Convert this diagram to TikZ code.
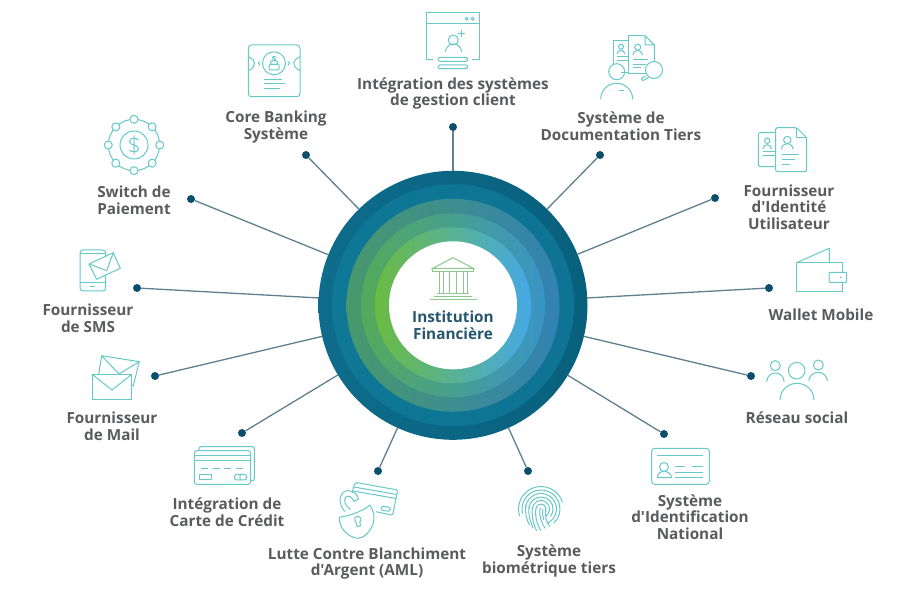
\documentclass[tikz,border=0pt]{standalone}
\usepackage{fontspec}
\setmainfont{Open Sans}[Ligatures=TeXOff]
\usetikzlibrary{calc}
\definecolor{txt}{HTML}{5A5B5D}
\definecolor{hubtxt}{HTML}{25566F}
\definecolor{ico}{HTML}{66C8C8}
\definecolor{cn}{HTML}{5F7F90}
\definecolor{dt}{HTML}{0B4F6C}
\definecolor{bk}{HTML}{8CC98E}
\tikzset{
  lab/.style={inner sep=0pt,align=center,text=txt,font=\fontsize{15.3}{16.6}\selectfont\bfseries},
  hublab/.style={inner sep=0pt,align=center,text=hubtxt,font=\fontsize{15.3}{16.6}\selectfont\bfseries},
  dotn/.style={circle,fill=dt,inner sep=0pt,minimum size=8pt},
  conn/.style={draw=cn,line width=1.3pt},
  ring/.style={circle,inner sep=0pt,outer sep=0pt},
  icon/.style={draw=ico,line width=1pt,line join=round},
  bank/.style={draw=bk,line width=1pt},
}
\begin{document}
\begin{tikzpicture}[x=1pt,y=-1pt]
\useasboundingbox (0,0) rectangle (906,601);
% ---------- hub rings
\node[ring,minimum size=269pt,left color={rgb,255:red,14;green,108;blue,140},right color={rgb,255:red,8;green,96;blue,124}] (hub) at (453,305.3) {};
\node[ring,minimum size=242pt,left color={rgb,255:red,14;green,120;blue,150},right color={rgb,255:red,14;green,115;blue,148}] (r2) at (453,305.3) {};
\node[ring,minimum size=213pt,left color={rgb,255:red,72;green,152;blue,108},right color={rgb,255:red,50;green,130;blue,180}] (r3) at (453,305.3) {};
\node[ring,minimum size=184pt,left color={rgb,255:red,84;green,170;blue,90},right color={rgb,255:red,58;green,148;blue,198}] (r4) at (453,305.3) {};
\node[ring,minimum size=156pt,left color={rgb,255:red,108;green,187;blue,65},right color={rgb,255:red,69;green,168;blue,230}] (r5) at (453,305.3) {};
\node[ring,minimum size=128pt,fill=white] (r6) at (453,305.3) {};
\node[hublab] (hubtext) at (453,325.5) {Institution\\Financière};
% bank icon
\draw[bank] (432.7,268.3) -- (453,257.7) -- (473.3,268.3) -- cycle;
\draw[bank] (432.7,268.3) rectangle (473.3,272);
\foreach \x in {439,443,449.5,456.5,463,467}{\draw[bank] (\x,272) -- (\x,294);}
\draw[bank] (437,294) -- (469,294);
\draw[bank] (434,296.5) -- (472,296.5);
\draw[bank] (429.5,299.5) -- (476.5,299.5);
% ---------- dots and connectors
\node[dotn] (d1) at (453,127) {};
\node[dotn] (d2) at (306,155) {};
\node[dotn] (d3) at (191,199) {};
\node[dotn] (d4) at (137,288) {};
\node[dotn] (d5) at (155,376) {};
\node[dotn] (d6) at (242,433) {};
\node[dotn] (d7) at (378,471) {};
\node[dotn] (d8) at (528,471) {};
\node[dotn] (d9) at (664,434) {};
\node[dotn] (d10) at (751,376) {};
\node[dotn] (d11) at (769,288) {};
\node[dotn] (d12) at (715,198) {};
\node[dotn] (d13) at (600,155) {};
\foreach \i in {1,...,13}{\draw[conn] (d\i) -- (hub);}
% ---------- labels
\node[lab] (l1) at (453,93.5) {Intégration des systèmes\\de gestion client};
\node[lab] (l2) at (276,127) {Core Banking\\Système};
\node[lab] (l3) at (134,200) {Switch de\\Paiement};
\node[lab] (l4) at (88,318) {Fournisseur\\de SMS};
\node[lab] (l5) at (112,426) {Fournisseur\\de Mail};
\node[lab] (l6) at (227,512.5) {Intégration de\\Carte de Crédit};
\node[lab] (l7) at (367,563.5) {Lutte Contre Blanchiment\\d'Argent (AML)};
\node[lab] (l8) at (549,561) {Système\\biométrique tiers};
\node[lab] (l9) at (690,517) {Système\\d'Identification\\National};
\node[lab] (l10) at (797,418) {Réseau social};
\node[lab] (l11) at (821,315) {Wallet Mobile};
\node[lab] (l12) at (789,207) {Fournisseur\\d'Identité\\Utilisateur};
\node[lab] (l13) at (621,126) {Système de\\Documentation Tiers};
% ---------- icon: integration
\draw[icon] (433,59.3) -- (426,59.3) -- (426,12.7) -- (479.3,12.7) -- (479.3,59.3) -- (472,59.3);
\draw[icon] (426,24) -- (479.3,24);
\draw[icon] (466.7,18.7) circle[radius=1.5] (472.7,18.7) circle[radius=1.5];
\draw[icon] (453.3,40) circle[radius=5];
\draw[icon] (445.5,52) arc[start angle=180,end angle=360,radius=8];
\draw[icon] (461.7,30) -- (461.7,37) (458.2,33.5) -- (465.2,33.5);
\draw[icon,rounded corners=1.5pt] (438,57.3) rectangle (467.7,61.3);
\draw[icon,rounded corners=1.5pt] (438,65) rectangle (467.7,68.7);
% ---------- icon: core banking
\draw[icon,rounded corners=3pt] (248.3,45) rectangle (300,96.7);
\draw[icon] (248.3,56.7) .. controls (253,59) and (254.5,61) .. (254.5,63.3) .. controls (254.5,66) and (253,68.5) .. (248.3,70.7);
\draw[icon] (300,56.7) .. controls (295.3,59) and (293.8,61) .. (293.8,63.3) .. controls (293.8,66) and (295.3,68.5) .. (300,70.7);
\draw[icon] (274,63.3) circle[radius=11.5];
\draw[icon] (260,61.5) -- (258.3,63.3) -- (260,65.1) (288,61.5) -- (289.7,63.3) -- (288,65.1);
\draw[icon,rounded corners=1pt] (269,64.5) rectangle (279,70);
\draw[icon,rounded corners=1pt] (270.5,61) rectangle (277.5,64.5);
\draw[icon] (276,57) .. controls (274,55.5) and (272,56.5) .. (272.5,57.8) .. controls (273,59) and (276,58.5) .. (275.8,59.8) .. controls (275.5,61) and (273,60.8) .. (272,60);
\draw[icon] (264,80) -- (282,80) (264,84) -- (285,84) (264,88.3) -- (280,88.3);
% ---------- icon: switch
\draw[icon] (134,145) circle[radius=25.7];
\draw[icon] (134,145) circle[radius=14];
\foreach \a in {0,45,...,315}{\draw[icon,fill=white] (\a:25.7) ++(134,145) circle[radius=4];}
\draw[icon] (138.5,140) .. controls (136.5,137.5) and (129.5,137.5) .. (129.5,141.5) .. controls (129.5,146) and (138.5,144) .. (138.5,149) .. controls (138.5,152.5) and (131,152.5) .. (129.3,150) (134,135.5) -- (134,154.5);
% ---------- icon: SMS
\draw[icon,rounded corners=3pt] (80,250) rectangle (105.7,291);
\draw[icon] (80,254) -- (105.7,254) (80,282.7) -- (105.7,282.7) (90,287) -- (95,287);
\draw[icon,fill=white] (89,264) -- (113.3,252.7) -- (120.3,268.3) -- (96.7,279.3) -- cycle;
\draw[icon] (89,264) -- (106.7,270.7) -- (113.3,252.7);
% ---------- icon: mail
\draw[icon] (98.7,374.3) -- (101.7,355.7) -- (139.3,361.7) -- (133.3,385.7) -- (131.7,385.3);
\draw[icon] (101.7,355.7) -- (119,374) -- (139.3,361.7);
\draw[icon,fill=white] (92.3,374.3) rectangle (131.7,399.3);
\draw[icon] (92.3,374.3) -- (112,390) -- (131.7,374.3);
% ---------- icon: credit card
\draw[icon,rounded corners=2pt] (199,450.7) -- (199,446.7) -- (254.3,446.7) -- (254.3,480.7) -- (250.7,480.7);
\draw[icon,fill=white,rounded corners=2.5pt] (194.3,450.7) rectangle (250.7,484.3);
\draw[icon] (194.3,456) -- (250.7,456) (194.3,460.7) -- (250.7,460.7);
\draw[icon,dash pattern=on 7pt off 4.5pt] (201,469) -- (245,469);
\draw[icon] (199.3,475) rectangle (211.3,479.3);
\draw[icon,rounded corners=2.5pt] (234.3,474.3) rectangle (246.7,480);
\draw[icon] (240.5,474.5) .. controls (239.5,476) and (239.5,478) .. (240.5,479.8);
% ---------- icon: AML
\draw[icon,rounded corners=2pt] (352,493) -- (355,482.3) -- (397.7,490) -- (392.7,515.3) -- (376,511.7);
\draw[icon] (354,487) -- (396.7,494.5) (353.3,491) -- (396,498.5);
\draw[icon,rounded corners=1.5pt] (381.5,506) -- (390.5,507.5) -- (389.8,511.5) -- (380.8,510) -- cycle;
\draw[icon] (345,511.5) .. controls (340,507) and (338,497) .. (343,492.5) .. controls (349,488) and (357,492) .. (358.5,499) -- (354,501.5) .. controls (352.5,497) and (348,495) .. (346,497) .. controls (343,499.5) and (345,506) .. (350.5,509.5);
\draw[icon,fill=white] (339.3,517.3) .. controls (348,516) and (362,512) .. (370,505) .. controls (374,511) and (375,518) .. (373,524) .. controls (370,532) and (364,538) .. (358.3,538.3) .. controls (350,538) and (339,530) .. (339.3,517.3) -- cycle;
\draw[icon] (357,526.5) -- (356,522.5) .. controls (353.5,520) and (355,516) .. (358,516.5) .. controls (361,516.8) and (362,520) .. (359.8,522) -- (360.5,526) -- cycle;
% ---------- icon: fingerprint
\begin{scope}[shift={(541,509)},rotate=-12]
\foreach \r/\p/\q in {22.5/150/330, 19/155/395, 15.5/175/415, 12/170/385, 8.5/180/400, 5/180/370}{
  \draw[icon,line cap=round] (\p:\r) arc[start angle=\p,end angle=\q,radius=\r];}
\draw[icon,line cap=round] (-15.5,-1) .. controls (-15,8) and (-12,13) .. (-8,18);
\draw[icon,line cap=round] (-12,0) .. controls (-12,8) and (-8,14) .. (-4,20);
\draw[icon,line cap=round] (-8.5,0) .. controls (-8.5,8) and (-5,15) .. (0,22);
\draw[icon,line cap=round] (-5,0) .. controls (-5,8) and (-1,15) .. (4,21);
\draw[icon,line cap=round] (-1,-1) .. controls (-1,7) and (3,13) .. (8,18);
\draw[icon,line cap=round] (5,0) .. controls (5,6) and (8,12) .. (12,15);
\draw[icon,line cap=round] (2,0) .. controls (2,4) and (3,7) .. (5,10);
\end{scope}
% ---------- icon: national ID
\draw[icon,rounded corners=3pt] (651.7,448.3) rectangle (709.3,484.3);
\draw[icon] (657,455.7) -- (702.7,455.7);
\draw[icon] (664,467) circle[radius=4.5];
\draw[icon] (657.5,477.7) .. controls (657.5,473.5) and (660,471.5) .. (664,471.5) .. controls (668,471.5) and (671.5,473.5) .. (671.5,477.7) -- cycle;
\draw[icon] (675,467) -- (685,467) (691.7,467) -- (702.7,467) (675,472.3) -- (702.7,472.3) (675,477.3) -- (702.7,477.3);
% ---------- icon: social
\draw[icon] (796.7,370.7) circle[radius=8.3];
\draw[icon] (780,400) arc[start angle=180,end angle=360,x radius=17,y radius=16.7];
\draw[icon] (775.3,365.7) circle[radius=5];
\draw[icon] (766.7,381.7) arc[start angle=180,end angle=360,x radius=8.7,y radius=8.7];
\draw[icon] (818.3,365) circle[radius=5];
\draw[icon] (808.8,381) arc[start angle=180,end angle=360,x radius=9.3,y radius=8.7];
% ---------- icon: wallet
\draw[icon] (796.7,262.7) -- (829.3,248.3) -- (829.3,262.7);
\draw[icon] (842.7,272.3) -- (842.7,262.7) -- (796.7,262.7) -- (796.7,291.7) -- (842.7,291.7) -- (842.7,282.3);
\draw[icon,rounded corners=1pt] (829,272.3) rectangle (846.7,282.3);
\fill[ico] (840.7,277.3) circle[radius=1];
% ---------- icon: identity
\draw[icon,rounded corners=1.5pt] (775.7,166.7) -- (758.3,166.7) -- (758.3,132.7) -- (775.7,132.7);
\draw[icon] (767.3,140.7) circle[radius=2.7];
\draw[icon] (763,149) arc[start angle=180,end angle=360,radius=4.3];
\draw[icon] (762.5,151.7) -- (775.7,151.7) (762.5,155.7) -- (775.7,155.7);
\draw[icon,rounded corners=1.5pt] (796.7,127.7) -- (775.7,127.7) -- (775.7,171.7) -- (806.7,171.7) -- (806.7,137.7) -- cycle;
\draw[icon] (796.7,127.7) -- (796.7,137.7) -- (806.7,137.7);
\draw[icon] (787.3,140) circle[radius=3.7];
\draw[icon] (781.5,149.5) arc[start angle=180,end angle=360,radius=5.8];
\draw[icon] (781.7,154.3) -- (799.3,154.3) (781.7,159.3) -- (795,159.3) (781.7,164.3) -- (790,164.3);
% ---------- icon: documentation
\draw[icon] (628.3,40.7) -- (613.3,40.7) -- (613.3,64);
\draw[icon] (621.3,73) -- (628.3,73);
\draw[icon] (621,46.7) circle[radius=2.5];
\draw[icon] (617.3,54) arc[start angle=180,end angle=360,radius=3.7];
\draw[icon] (617,57) -- (628.3,57) (617,60.5) -- (628.3,60.5);
\draw[icon] (645,35.7) -- (628.3,35.7) -- (628.3,73.3) -- (646,73.3);
\draw[icon] (645,35.7) -- (654.3,45) -- (654.3,62) (645,35.7) -- (645,45) -- (654.3,45);
\draw[icon] (637.7,47.3) circle[radius=3];
\draw[icon] (633,55) arc[start angle=180,end angle=360,radius=4.7];
\draw[icon] (633,60) -- (648,60) (633,64.5) -- (646,64.5) (633,68) -- (641,68);
\draw[icon] (616.7,71.7) circle[radius=8];
\draw[icon] (654,70) circle[radius=8.5];
\draw[icon] (648.3,77.3) -- (645,79.5) -- (642.7,80.7) (645.5,75.8) -- (641.5,78.5) -- (643,81);
\draw[icon] (600.7,99.3) arc[start angle=180,end angle=360,x radius=16,y radius=16];
\draw[icon] (619,91) -- (624,91);
\end{tikzpicture}
\end{document}
